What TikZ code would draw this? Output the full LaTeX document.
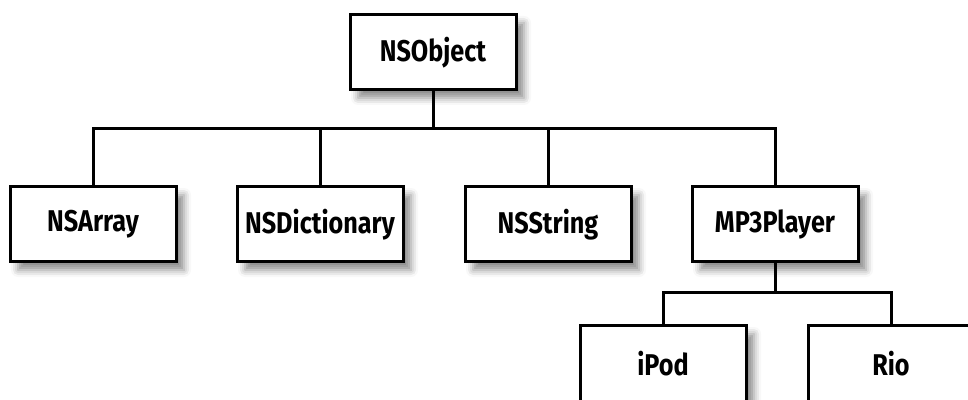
\documentclass[tikz,border=0pt]{standalone}
\usepackage{fontspec}
\setmainfont[FakeStretch=0.84]{Fira Sans}
\usetikzlibrary{shadows.blur}
\begin{document}
\begin{tikzpicture}[x=.5pt,y=-.5pt,
    cls/.style={draw,line width=1.5pt,fill=white,minimum width=83pt,minimum height=37.5pt,
      inner sep=0pt,font=\bfseries\fontsize{15}{17}\selectfont,
      blur shadow={shadow xshift=4pt,shadow yshift=-4pt,shadow blur radius=3.5pt,shadow opacity=45}},
    link/.style={line width=1.5pt}]
    \useasboundingbox (0,0) rectangle (968,400);
    \node[cls] (obj) at (433,52.5) {NSObject};
    \node[cls] (arr) at (93,224.5) {NSArray};
    \node[cls] (dic) at (320,224.5) {NSDictionary};
    \node[cls] (str) at (548,224.5) {NSString};
    \node[cls] (mp3) at (775,224.5) {MP3Player};
    \node[cls] (ipod) at (663,363.5) {iPod};
    \node[cls] (rio) at (891,363.5) {Rio};
    \coordinate (busA) at (433,129);
    \coordinate (busB) at (775,293);
    \draw[link] (obj.south) -- (busA);
    \draw[link] (arr.north) -- (arr.north |- busA) -- (mp3.north |- busA) -- (mp3.north);
    \foreach \n in {dic,str}
    \draw[link] (\n.north) -- (\n.north |- busA);
    \draw[link] (mp3.south) -- (busB);
    \draw[link] (ipod.north) -- (ipod.north |- busB) -- (rio.north |- busB) -- (rio.north);
  \end{tikzpicture}
\end{document}
